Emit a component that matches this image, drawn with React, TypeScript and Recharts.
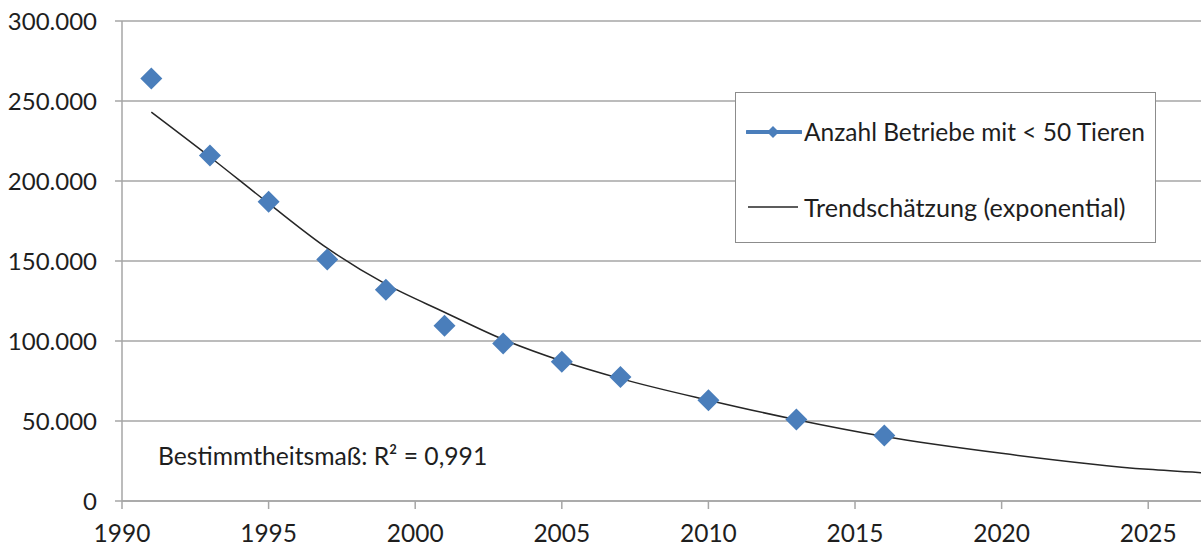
import React from "react";
import {
  ComposedChart,
  Scatter,
  Line,
  XAxis,
  YAxis,
  CartesianGrid,
} from "recharts";

// Observed data: number of farms with < 50 animals
const pointYears = [1991, 1993, 1995, 1997, 1999, 2001, 2003, 2005, 2007, 2010, 2013, 2016];
const betriebeValues = [264000, 216000, 187000, 151000, 132000, 109500, 98500, 87000, 77500, 63000, 51000, 41000];

// Trend curve (exponential)
const trendYears = [1991, 1993, 1995, 1997, 1999, 2001, 2003, 2005, 2007, 2010, 2013, 2016, 2020, 2025, 2026.8];
const trendValues = [243000, 215000, 186000, 158000, 135500, 118000, 101000, 87500, 76500, 63000, 50800, 40300, 29800, 19800, 17700];

const xTicks = [1990, 1995, 2000, 2005, 2010, 2015, 2020, 2025];
const yTicks = [0, 50000, 100000, 150000, 200000, 250000, 300000];

const seriesName = "Anzahl Betriebe mit < 50 Tieren";
const trendName = "Trendschätzung (exponential)";
const r2Text = "Bestimmtheitsmaß: R² = 0,991";

const pointData = pointYears.map((year, i) => ({ year, betriebe: betriebeValues[i] }));
const trendData = trendYears.map((year, i) => ({ year, trend: trendValues[i] }));

const FONT = "Lato, 'Noto Sans', sans-serif";
const TEXT = "#1e1e1e";
const GRID = "#a6a6a6";
const BLUE = "#4a7ebb";

const fmt = (v: number) => v.toLocaleString("de-DE");

const Diamond = (props: any) => {
  const { cx, cy } = props;
  if (cx == null || cy == null) return null;
  const r = 11;
  return (
    <path
      d={`M${cx},${cy - r} L${cx + r},${cy} L${cx},${cy + r} L${cx - r},${cy} Z`}
      fill={BLUE}
    />
  );
};

export default function App() {
  return (
    <div
      style={{
        position: "absolute",
        left: 0,
        top: 0,
        width: 1202,
        height: 548,
        background: "#fff",
        fontFamily: FONT,
        overflow: "hidden",
      }}
    >
      <ComposedChart
        width={1202}
        height={548}
        margin={{ top: 21, right: 1, left: 0, bottom: 0 }}
      >
        <CartesianGrid vertical={false} stroke={GRID} strokeWidth={1.5} />
        <XAxis
          type="number"
          dataKey="year"
          domain={[1990, 2026.8]}
          ticks={xTicks}
          allowDataOverflow
          height={47}
          tickSize={8}
          tickMargin={16}
          axisLine={{ stroke: GRID, strokeWidth: 1.5 }}
          tickLine={{ stroke: GRID, strokeWidth: 1.5 }}
          tick={{ fill: TEXT, fontSize: 24.5, fontFamily: FONT }}
        />
        <YAxis
          type="number"
          domain={[0, 300000]}
          ticks={yTicks}
          width={122}
          tickSize={7}
          tickMargin={18}
          tickFormatter={fmt}
          axisLine={{ stroke: GRID, strokeWidth: 1.5 }}
          tickLine={{ stroke: GRID, strokeWidth: 1.5 }}
          tick={{ fill: TEXT, fontSize: 24, fontFamily: FONT }}
        />
        <Scatter
          data={pointData}
          dataKey="betriebe"
          shape={<Diamond />}
          isAnimationActive={false}
        />
        <Line
          data={trendData}
          dataKey="trend"
          type="monotone"
          stroke="#262626"
          strokeWidth={1.5}
          dot={false}
          activeDot={false}
          isAnimationActive={false}
        />
      </ComposedChart>

      {/* R² annotation */}
      <div
        style={{
          position: "absolute",
          left: 158,
          top: 441,
          fontSize: 24.7,
          color: TEXT,
          whiteSpace: "nowrap",
          lineHeight: "30px",
        }}
      >
        {r2Text}
      </div>

      {/* Legend */}
      <div
        style={{
          position: "absolute",
          left: 735,
          top: 92,
          width: 421,
          height: 151,
          border: "1.5px solid #8c8c8c",
          background: "#fff",
          boxSizing: "border-box",
          color: TEXT,
        }}
      >
        <div style={{ position: "absolute", left: 10, top: 24, display: "flex", alignItems: "center", whiteSpace: "nowrap" }}>
          <svg width={56} height={30} style={{ display: "block" }}>
            <line x1={1} y1={15} x2={55} y2={15} stroke={BLUE} strokeWidth={4} strokeLinecap="round" />
            <path d="M27,9 L33,15 L27,21 L21,15 Z" fill={BLUE} />
          </svg>
          <span style={{ marginLeft: 2, lineHeight: "30px", fontSize: 24.5 }}>{seriesName}</span>
        </div>
        <div style={{ position: "absolute", left: 12, top: 99, display: "flex", alignItems: "center", whiteSpace: "nowrap" }}>
          <svg width={54} height={30} style={{ display: "block" }}>
            <line x1={0} y1={15} x2={50} y2={15} stroke="#262626" strokeWidth={1.5} />
          </svg>
          <span style={{ marginLeft: 2, lineHeight: "30px", fontSize: 25.2 }}>{trendName}</span>
        </div>
      </div>
    </div>
  );
}
